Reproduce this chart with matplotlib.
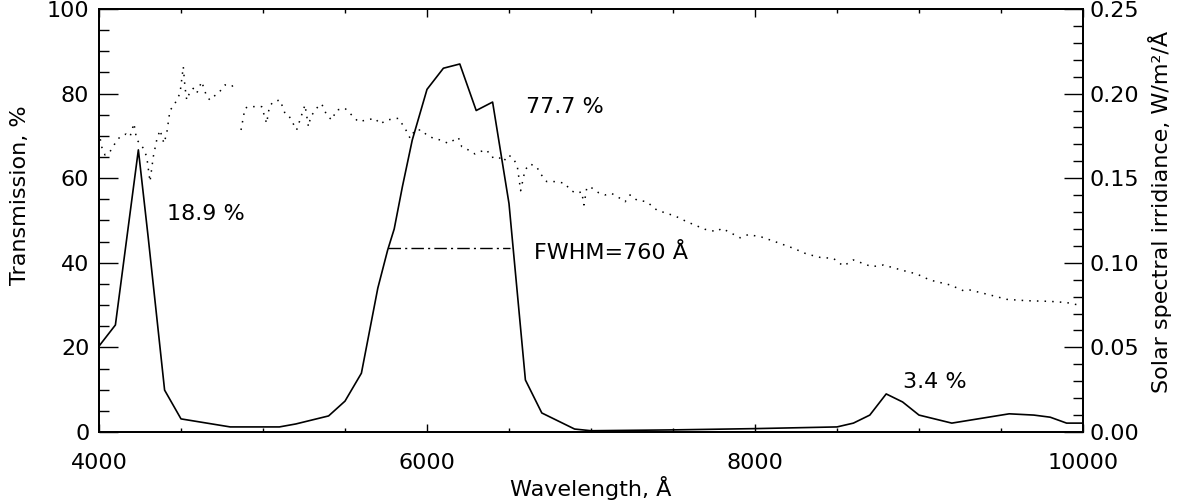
import matplotlib
matplotlib.use("Agg")
import numpy as np
import matplotlib.pyplot as plt
from matplotlib.ticker import MultipleLocator, FormatStrFormatter

# filter transmission curve (left axis, %)
wl_trans = [4000, 4100, 4240, 4300, 4400, 4500, 4800, 5100, 5200, 5400, 5500,
            5600, 5700, 5760, 5800, 5850, 5910, 6000, 6100, 6200, 6300, 6400,
            6500, 6600, 6700, 6800, 6900, 7000, 7500, 8000, 8500, 8600, 8700,
            8800, 8900, 9000, 9200, 9550, 9700, 9800, 9900, 10000]
trans = [20.3, 25.3, 66.7, 46.0, 9.9, 3.1, 1.2, 1.2, 1.9, 3.8, 7.3,
         13.9, 34.0, 43.0, 48.0, 58.0, 69.0, 81.0, 86.0, 87.0, 76.0, 78.0,
         54.0, 12.3, 4.5, 2.6, 0.7, 0.3, 0.5, 0.8, 1.2, 2.1, 4.0,
         9.0, 7.1, 4.0, 2.1, 4.3, 4.0, 3.5, 2.1, 2.1]

# solar spectral irradiance (right axis, W/m^2/A), nan = gap in the data
wl_solar = [4000, 4016, 4037, 4067, 4098, 4128, 4165, 4189, 4213, 4230, 4250,
            4270, 4291, 4311, 4331, 4352, 4372, 4396, 4413, 4433, 4453, 4474,
            4494, 4504, 4514, 4524, 4535, 4555, 4575, 4596, 4626, 4657, 4677,
            4697, 4728, 4768, 4809, 4829, 4848, 4866, 4890, 4911, 4992, 5022,
            5039, 5063, 5104, 5134, 5155, 5205, 5256, 5277, 5291, 5338, 5358,
            5388, 5419, 5449, 5500, 5531, 5581, 5683, 5714, 5754, 5825, 5866,
            5897, 5927, 5968, 5998, 6039, 6080, 6130, 6191, 6212, 6252, 6293,
            6323, 6364, 6395, 6435, 6466, 6496, 6527, 6551, 6571, 6598, 6628,
            6669, 6689, 6730, 6781, 6842, 6872, 6913, 6943, 6957, 6974, 6994,
            7045, 7086, 7126, 7177, 7208, 7238, 7279, 7340, 7401, 7462, 7512,
            7584, 7695, 7767, 7797, 7838, 7909, 7960, 8041, 8122, 8234, 8315,
            8397, 8478, 8539, 8600, 8712, 8783, 8905, 8986, 9067, 9190, 9271,
            9311, 9433, 9535, 9657, 9738, 9800, 9900, 10000]
solar = [0.1775, 0.1686, 0.1637, 0.1657, 0.1706, 0.1745, 0.1761, 0.1745, 0.1824, 0.1726, 0.1706,
         0.1677, 0.1627, 0.1480, 0.1627, 0.1726, 0.1785, 0.1706, 0.1765, 0.1903, 0.1923, 0.1962,
         0.2002, 0.2080, 0.2159, 0.2041, 0.1962, 0.2011, 0.2031, 0.2002, 0.2071, 0.1982, 0.1962,
         0.1982, 0.2002, 0.2051, 0.2051, 0.2021, np.nan, 0.1785, 0.1913, 0.1923, 0.1923, 0.1824,
         0.1923, 0.1953, 0.1962, 0.1883, 0.1874, 0.1785, 0.1933, 0.1805, 0.1864, 0.1927, 0.1939,
         0.1874, 0.1844, 0.1903, 0.1913, 0.1883, 0.1834, 0.1854, 0.1820, 0.1844, 0.1854, 0.1795,
         0.1736, 0.1785, 0.1785, 0.1755, 0.1736, 0.1726, 0.1706, 0.1741, 0.1686, 0.1667, 0.1643,
         0.1657, 0.1667, 0.1623, 0.1627, 0.1598, 0.1637, 0.1618, 0.1568, 0.1426, 0.1549, 0.1584,
         0.1568, 0.1530, 0.1480, 0.1480, 0.1470, 0.1430, 0.1410, 0.1420, 0.1342, 0.1442, 0.1450,
         0.1415, 0.1401, 0.1410, 0.1381, 0.1361, 0.1401, 0.1371, 0.1361, 0.1312, 0.1292, 0.1277,
         0.1243, 0.1198, 0.1184, 0.1204, 0.1184, 0.1148, 0.1167, 0.1152, 0.1125, 0.1086, 0.1052,
         0.1032, 0.1026, 0.0981, 0.1017, 0.0977, 0.0987, 0.0954, 0.0934, 0.0898, 0.0869, 0.0835,
         0.0839, 0.0810, 0.0784, 0.0776, 0.0774, 0.0772, 0.0765, 0.0745]

fwhm_wl = [5762, 6506]
fwhm_level = 43.5

plt.rcParams['font.family'] = ['DejaVu Sans']
FS = 16

fig = plt.figure(figsize=(11.81, 5.03), dpi=100)
ax = fig.add_axes([99 / 1181, 1 - 432 / 503, 984 / 1181, 423 / 503])

ax.plot(wl_trans, trans, color='black', lw=1.2)
ax.plot(fwhm_wl, [fwhm_level, fwhm_level], color='black', lw=1.0,
        ls=(0, (9, 3, 1.5, 3)))

ax.text(4415, 51.5, "18.9 %", fontsize=FS, va='center')
ax.text(6604, 76.8, "77.7 %", fontsize=FS, va='center')
ax.text(6650, 42.3, "FWHM=760 Å", fontsize=FS, va='center')
ax.text(8900, 11.8, "3.4 %", fontsize=FS, va='center')

ax.set_xlim(4000, 10000)
ax.set_ylim(0, 100)
ax.xaxis.set_major_locator(MultipleLocator(2000))
ax.xaxis.set_minor_locator(MultipleLocator(500))
ax.yaxis.set_major_locator(MultipleLocator(20))
ax.yaxis.set_minor_locator(MultipleLocator(5))
ax.tick_params(axis='x', which='both', direction='in', top=True, bottom=True,
               labelsize=16, pad=15)
ax.tick_params(axis='x', which='major', length=6, width=1)
ax.tick_params(axis='x', which='minor', length=3, width=1)
ax.tick_params(axis='y', which='both', direction='in', left=True, right=False,
               labelsize=16, pad=7)
ax.tick_params(axis='y', which='major', length=14, width=1)
ax.tick_params(axis='y', which='minor', length=7, width=1)
ax.set_xlabel("Wavelength, Å", fontsize=FS, labelpad=2)
ax.set_ylabel("Transmission, %", fontsize=FS)
ax.yaxis.set_label_coords(-0.070, 0.56)

ax2 = ax.twinx()
ax2.plot(wl_solar, solar, color='black', lw=1.1, ls=(0, (1, 4)))
ax2.set_ylim(0, 0.25)
ax2.yaxis.set_major_locator(MultipleLocator(0.05))
ax2.yaxis.set_minor_locator(MultipleLocator(0.01))
ax2.yaxis.set_major_formatter(FormatStrFormatter('%.2f'))
ax2.tick_params(axis='y', which='both', direction='in', labelsize=16, pad=5)
ax2.tick_params(axis='y', which='major', length=14, width=1)
ax2.tick_params(axis='y', which='minor', length=7, width=1)
ax2.set_ylabel("Solar spectral irridiance, W/m²/Å", fontsize=FS)
ax2.yaxis.set_label_coords(1.066, 0.52)

for a in (ax, ax2):
    for s in a.spines.values():
        s.set_linewidth(1.3)

fig.savefig("out.png", dpi=100)
